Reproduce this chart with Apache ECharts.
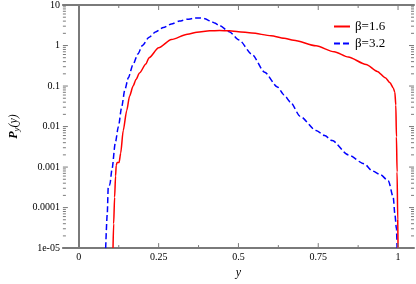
<!DOCTYPE html>
<html><head><meta charset="utf-8">
<script src="https://cdn.jsdelivr.net/npm/echarts@6/dist/echarts.min.js"></script>
<style>html,body{margin:0;padding:0;background:#fff}#c{width:416px;height:284px}</style>
</head><body><div id="c"></div>
<script>
const seriesNames = ['β=1.6', 'β=3.2'];
const redX = [0.107,0.109,0.112,0.115,0.117,0.12,0.126,0.131,0.139,0.15,0.159,0.17,0.179,0.19,0.21,0.22,0.25,0.29,0.34,0.37,0.41,0.441,0.471,0.5,0.542,0.602,0.643,0.673,0.743,0.8,0.844,0.9,0.935,0.96,0.975,0.985,0.99,0.993,0.995,0.997,0.999,1.0];
const redY = [1e-5,4e-5,1.8e-4,6e-4,1.1e-3,1.3e-3,1.3e-3,2.2e-3,8e-3,0.025,0.057,0.1,0.145,0.21,0.35,0.5,0.88,1.4,1.9,2.12,2.3,2.35,2.3,2.2,2.04,1.74,1.52,1.35,0.98,0.7,0.52,0.34,0.23,0.16,0.12,0.09,0.07,0.034,0.0056,7.6e-4,5e-5,1e-5];
const blueX = [0.084,0.089,0.092,0.095,0.097,0.104,0.114,0.124,0.134,0.144,0.155,0.169,0.185,0.199,0.22,0.24,0.265,0.29,0.315,0.34,0.365,0.381,0.395,0.411,0.425,0.441,0.471,0.502,0.542,0.582,0.622,0.643,0.663,0.693,0.743,0.77,0.794,0.844,0.894,0.92,0.945,0.97,0.985,0.99,0.995,0.997];
const blueY = [1e-5,7e-5,3.1e-4,3.3e-4,3.7e-4,9e-4,3.9e-3,0.01,0.03,0.08,0.16,0.33,0.62,1.0,1.6,2.15,2.8,3.4,4.0,4.45,4.75,4.8,4.6,4.05,3.6,3.1,2.2,1.37,0.61,0.22,0.095,0.06,0.04,0.018,0.008,0.006,0.0045,0.002,0.0012,8e-4,6.5e-4,4.5e-4,1.8e-4,7e-5,3e-5,1e-5];
const xTicks = [0, 0.25, 0.5, 0.75, 1];
const xMinorTicks = [0.125, 0.375, 0.625, 0.875];
const yTicks = [1e-5, 1e-4, 1e-3, 0.01, 0.1, 1, 10];
const yTickLabels = ['1e-05', '0.0001', '0.001', '0.01', '0.1', '1', '10'];

const X_MIN = -0.05, X_MAX = 1.05, Y_MIN = 1e-5, Y_MAX = 10;
const yMinor = [];
for (let e = -5; e < 1; e++) for (let m = 2; m <= 9; m++) yMinor.push(m * Math.pow(10, e));

const zip = (a, b) => a.map((v, i) => [v, b[i]]);
const AX = '#7a7a7a';
const serif = '"Liberation Serif","DejaVu Serif",serif';

const tickData = [];
xTicks.forEach(v => tickData.push([v, Y_MIN, 0, 5]));
xMinorTicks.forEach(v => tickData.push([v, Y_MIN, 0, 3]));
yTicks.forEach(v => tickData.push([X_MIN, v, 1, 5]));
yMinor.forEach(v => tickData.push([X_MIN, v, 1, 3]));

const chart = echarts.init(document.getElementById('c'), null, {renderer: 'canvas'});
chart.setOption({
  animation: false,
  grid: {left: 51, right: 2, top: 5, bottom: 24},
  legend: {
    orient: 'vertical', left: 328, top: 15, itemGap: 4, itemWidth: 16, itemHeight: 12,
    data: seriesNames,
    itemStyle: {opacity: 0},
    textStyle: {fontFamily: serif, fontSize: 13, color: '#000'}
  },
  xAxis: [{
    type: 'value', min: X_MIN, max: X_MAX, position: 'bottom',
    axisLine: {lineStyle: {color: AX, width: 2}},
    axisTick: {show: false},
    splitLine: {show: false},
    axisLabel: {customValues: xTicks, fontFamily: serif, fontSize: 10, color: '#000', margin: 4,
      formatter: v => String(v)},
    name: 'y', nameLocation: 'middle', nameGap: 14,
    nameTextStyle: {fontFamily: serif, fontStyle: 'italic', fontSize: 12, color: '#000'}
  }, {
    type: 'value', min: X_MIN, max: X_MAX, position: 'top',
    axisLine: {lineStyle: {color: AX, width: 2}},
    axisTick: {show: false}, axisLabel: {show: false}, splitLine: {show: false}
  }],
  yAxis: [{
    type: 'log', logBase: 10, min: Y_MIN, max: Y_MAX, position: 'left',
    axisLine: {lineStyle: {color: AX, width: 2}},
    axisTick: {show: false},
    splitLine: {show: false},
    axisLabel: {fontFamily: serif, fontSize: 10, color: '#000', margin: 3,
      formatter: v => { const e = Math.round(Math.log10(v)); const i = yTicks.findIndex(t => Math.round(Math.log10(t)) === e); return i >= 0 ? yTickLabels[i] : ''; }},
    name: '{p|P}{s|y}{n|(y)}', nameLocation: 'middle', nameGap: 39,
    nameTextStyle: {rich: {
      p: {fontFamily: serif, fontStyle: 'italic', fontWeight: 'bold', fontSize: 12, color: '#000'},
      s: {fontFamily: serif, fontStyle: 'italic', fontSize: 9, color: '#000', verticalAlign: 'bottom', padding: [6, 0, 0, 0]},
      n: {fontFamily: serif, fontStyle: 'italic', fontSize: 12, color: '#000'}
    }}
  }, {
    type: 'log', logBase: 10, min: Y_MIN, max: Y_MAX, position: 'right',
    axisLine: {lineStyle: {color: AX, width: 2}},
    axisTick: {show: false}, axisLabel: {show: false}, splitLine: {show: false}
  }],
  series: [{
    name: seriesNames[0], type: 'line', data: zip(redX, redY), showSymbol: false, symbol: 'none',
    smooth: 0.25, smoothMonotone: 'x',
    lineStyle: {color: '#ff0000', width: 1.5}, itemStyle: {color: '#ff0000'}, z: 3
  }, {
    name: seriesNames[1], type: 'line', data: zip(blueX, blueY), showSymbol: false, symbol: 'none',
    smooth: 0.25, smoothMonotone: 'x',
    lineStyle: {color: '#0000ff', width: 1.5, type: [6, 3]}, itemStyle: {color: '#0000ff'}, z: 2
  }, {
    type: 'custom', data: tickData, silent: true, z: 5,
    renderItem: (params, api) => {
      const kind = api.value(2), len = api.value(3);
      const style = {stroke: AX, lineWidth: 1};
      if (kind === 0) {
        const b = api.coord([api.value(0), Y_MIN]);
        const t = api.coord([api.value(0), Y_MAX]);
        return {type: 'group', children: [
          {type: 'line', shape: {x1: b[0], y1: b[1], x2: b[0], y2: b[1] - len}, style},
          {type: 'line', shape: {x1: t[0], y1: t[1], x2: t[0], y2: t[1] + len}, style}
        ]};
      } else {
        const l = api.coord([X_MIN, api.value(1)]);
        const r = api.coord([X_MAX, api.value(1)]);
        return {type: 'group', children: [
          {type: 'line', shape: {x1: l[0], y1: l[1], x2: l[0] + len, y2: l[1]}, style},
          {type: 'line', shape: {x1: r[0], y1: r[1], x2: r[0] - len, y2: r[1]}, style}
        ]};
      }
    }
  }]
});
</script></body></html>
